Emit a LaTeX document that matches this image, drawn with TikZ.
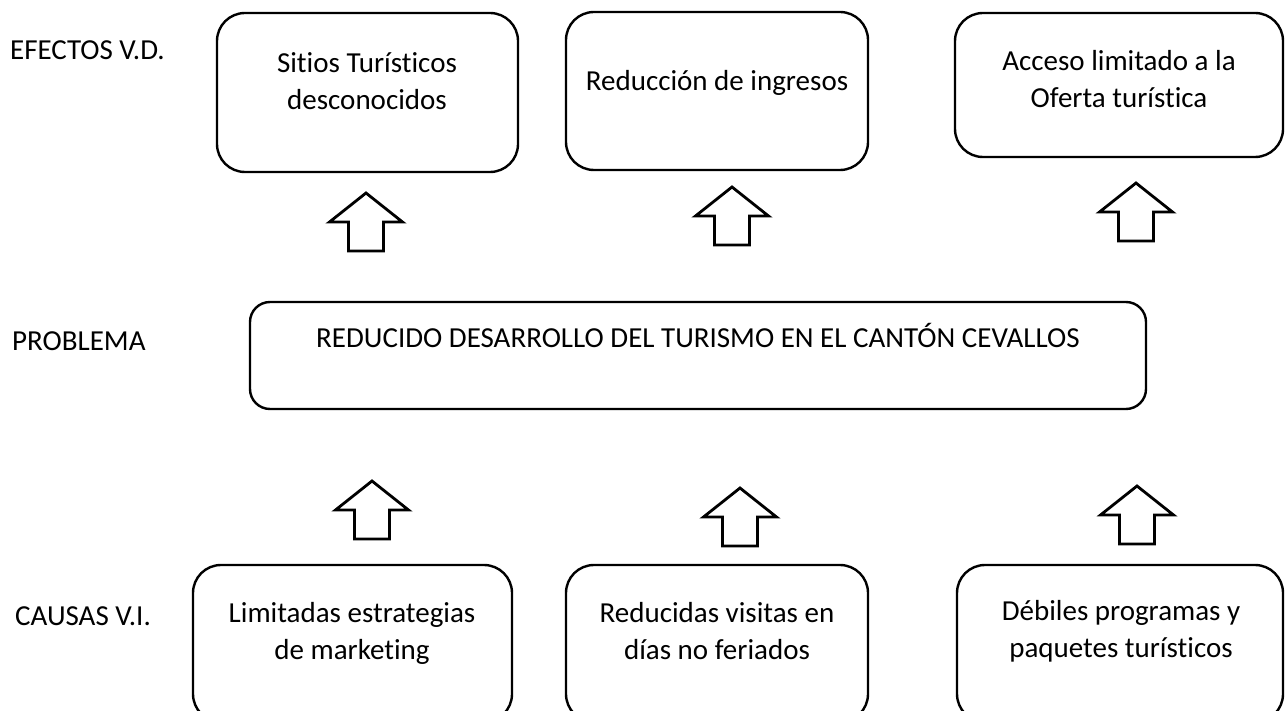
\documentclass[tikz,border=0pt]{standalone}
\usepackage{fontspec}
\setmainfont{Carlito}[Ligatures=NoCommon]
\begin{document}
\begin{tikzpicture}[x=1pt,y=-1pt,
  box/.style={draw, line width=2.4pt, rounded corners=28pt, inner sep=0pt, fill=white},
  probbox/.style={box, rounded corners=20pt},
  txt/.style={font=\fontsize{29}{37}\selectfont, align=center, inner sep=0pt},
  lbl/.style={font=\fontsize{29}{37}\selectfont, anchor=base west, inner sep=0pt},
  uparrow/.pic={\draw[line width=2.8pt, line join=miter, fill=white]
      (0,0) -- (36.5,29) -- (17.5,29) -- (17.5,58) -- (-17.5,58) -- (-17.5,29) -- (-36.5,29) -- cycle;}
]
\useasboundingbox (0,0) rectangle (1285,711);
\clip (0,0) rectangle (1285,711);
\fill[white] (0,0) rectangle (1285,711);

% labels
\node[lbl] (lefe) at (10,60) {EFECTOS V.D.};
\node[lbl] (lpro) at (12,350) {PROBLEMA};
\node[lbl] (lcau) at (15,625) {CAUSAS V.I.};

% effects
\node[box, minimum width=301pt, minimum height=159pt] (t1) at (367.5,92.5) {};
\node[txt] (t1t) at (367,81) {Sitios Turísticos\\desconocidos};
\node[box, minimum width=302pt, minimum height=158pt] (t2) at (717,91) {};
\node[txt, anchor=base] (t2t) at (717,91) {Reducción de ingresos};
\node[box, minimum width=328pt, minimum height=144pt] (t3) at (1119,85) {};
\node[txt] (t3t) at (1119,79) {Acceso limitado a la\\Oferta turística};

% problem
\node[probbox, minimum width=896pt, minimum height=107pt] (p) at (698,355.5) {};
\node[txt, anchor=base] (pt) at (698,348) {REDUCIDO DESARROLLO DEL TURISMO EN EL CANTÓN CEVALLOS};

% causes
\node[box, minimum width=319pt, minimum height=157pt] (b1) at (352.5,643.5) {};
\node[txt] (b1t) at (352,633) {Limitadas estrategias\\de marketing};
\node[box, minimum width=302pt, minimum height=157pt] (b2) at (717,643.5) {};
\node[txt] (b2t) at (717,631) {Reducidas visitas en\\días no feriados};
\node[box, minimum width=326pt, minimum height=157pt] (b3) at (1120,643.5) {};
\node[txt] (b3t) at (1121,631) {Débiles programas y\\paquetes turísticos};

% block arrows
\pic at (366,193) {uparrow};
\pic at (732,187) {uparrow};
\pic at (1136,183) {uparrow};
\pic at (372,481) {uparrow};
\pic at (740,488) {uparrow};
\pic at (1137,486) {uparrow};
\end{tikzpicture}
\end{document}
